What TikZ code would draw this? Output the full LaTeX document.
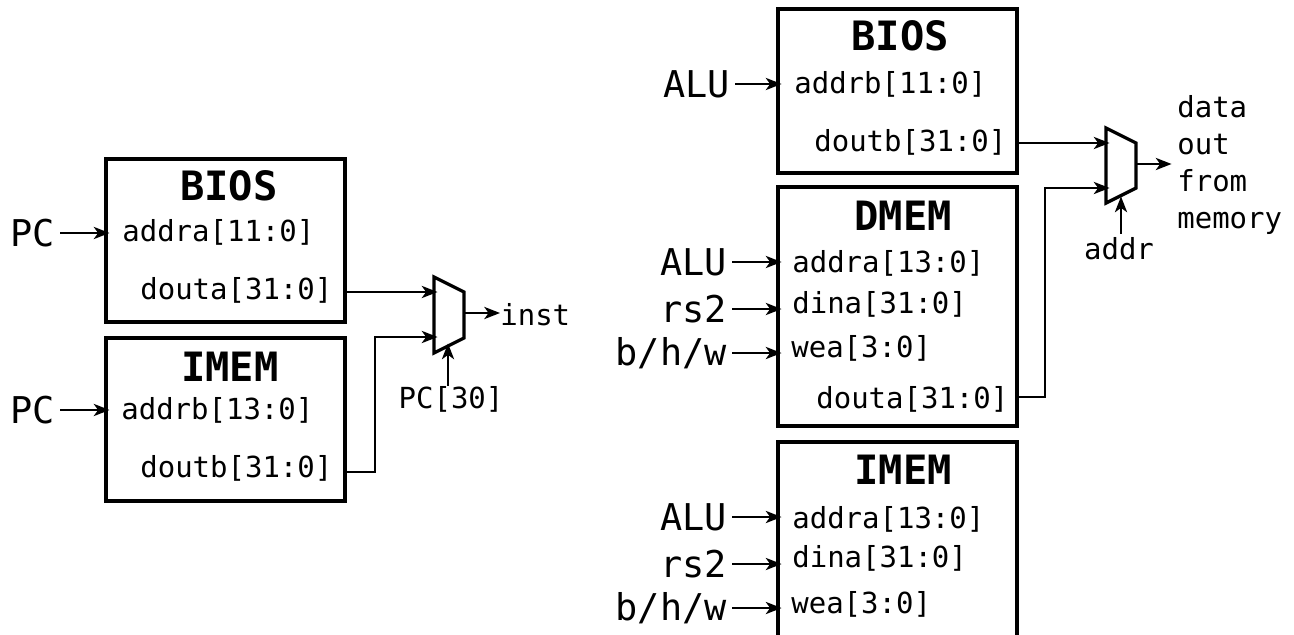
\documentclass[tikz,border=0pt]{standalone}
\usepackage{fontspec}
\setmainfont{DejaVu Sans Mono}
\usetikzlibrary{arrows.meta,calc,positioning}
\tikzset{
  membox/.style={draw,line width=1.9pt,minimum width=4.78cm,outer sep=0pt,inner sep=0pt,anchor=north west},
  memtitle/.style={inner sep=0pt,font=\fontsize{23}{26}\selectfont\bfseries},
  port/.style={anchor=west,inner sep=0pt,yshift=-0.57pt,font=\fontsize{16.5}{20}\selectfont},
  signal/.style={anchor=east,inner ysep=0pt,inner xsep=0.1cm,font=\fontsize{21}{25}\selectfont},
  note/.style={inner sep=0pt,font=\fontsize{16.5}{21}\selectfont},
  wire/.style={line width=1pt,-{Stealth[length=9pt,width=7pt,inset=2.5pt]},shorten >=-2pt},
  muxshape/.style={line width=1.9pt,line join=miter},
}
\begin{document}
\begin{tikzpicture}[x=0.02cm,y=-0.02cm]
\useasboundingbox (0,0) rectangle (1294,635);

% left side
\node[membox,minimum height=3.26cm] (biosL) at (106,159) {};
\node[membox,minimum height=3.26cm] (imemL) at (106,338) {};
\node[memtitle] (biosLt) at (229,186) {BIOS};
\node[memtitle] (imemLt) at (230,367) {IMEM};
\node[port] (addraL) at (122,231) {addra[11:0]};
\node[port] (doutaL) at (140,289) {douta[31:0]};
\node[port] (addrbL) at (121,409) {addrb[13:0]};
\node[port] (doutbL) at (140,467) {doutb[31:0]};
\node[signal] (pcA) at (60,233) {PC};
\node[signal] (pcB) at (60,410) {PC};
\draw[wire] (pcA.east) -- (pcA.east -| biosL.west);
\draw[wire] (pcB.east) -- (pcB.east -| imemL.west);

\coordinate (muxLa) at (434,292);
\coordinate (muxLb) at (434,337);
\coordinate (muxLsel) at (448,347);
\coordinate (muxLout) at (464,313);
\draw[muxshape] (434,277) -- (464,292) -- (464,338) -- (434,353) -- cycle;
\node[note,anchor=west] (inst) at (500,315) {inst};
\node[note] (pcsel) at (451,399) {PC[30]};
\draw[wire] (biosL.east |- muxLa) -- (muxLa);
\draw[wire] (imemL.east |- 0,472) -- (375,472) -- (375,337) -- (muxLb);
\draw[wire,shorten >=0pt] (muxLout) -- (inst.west |- muxLout);
\draw[wire] (pcsel.north -| muxLsel) -- (muxLsel);

% right side
\node[membox,minimum height=3.28cm] (biosR) at (778,9) {};
\node[membox,minimum height=4.78cm] (dmemR) at (778,187) {};
\node[membox,minimum height=4.4cm] (imemR) at (778,442) {};
\node[memtitle] (biosRt) at (900,36) {BIOS};
\node[memtitle] (dmemRt) at (903,216) {DMEM};
\node[memtitle] (imemRt) at (903,470) {IMEM};
\node[port] (addrbR) at (794,83) {addrb[11:0]};
\node[port] (doutbR) at (814,141) {doutb[31:0]};
\node[port] (addraD) at (792,262) {addra[13:0]};
\node[port] (dinaD) at (792,303) {dina[31:0]};
\node[port] (weaD) at (791,347) {wea[3:0]};
\node[port] (doutaD) at (816,398) {douta[31:0]};
\node[port] (addraI) at (792,518) {addra[13:0]};
\node[port] (dinaI) at (792,557) {dina[31:0]};
\node[port] (weaI) at (791,603) {wea[3:0]};

\node[signal] (aluB) at (735,84) {ALU};
\node[signal] (aluD) at (732,262) {ALU};
\node[signal] (rsD) at (732,309) {rs2};
\node[signal] (bhwD) at (732,353) {b/h/w};
\node[signal] (aluI) at (732,517) {ALU};
\node[signal] (rsI) at (732,564) {rs2};
\node[signal] (bhwI) at (732,608) {b/h/w};
\foreach \from/\to in {aluB/biosR,aluD/dmemR,rsD/dmemR,bhwD/dmemR,aluI/imemR,rsI/imemR,bhwI/imemR}
  \draw[wire] (\from.east) -- (\from.east -| \to.west);

\coordinate (muxRa) at (1106,143);
\coordinate (muxRb) at (1106,188);
\coordinate (muxRsel) at (1121,200);
\coordinate (muxRout) at (1136,164);
\coordinate (muxRend) at (1168,164);
\draw[muxshape] (1106,128) -- (1136,143) -- (1136,188) -- (1106,203) -- cycle;
\node[note] (addrsel) at (1119,249) {addr};
\node[note,anchor=north west,align=left] (dataout) at (1177,95) {data\\out\\from\\memory};
\draw[wire] (biosR.east |- muxRa) -- (muxRa);
\draw[wire] (dmemR.east |- 0,397) -- (1045,397) -- (1045,188) -- (muxRb);
\draw[wire] (muxRout) -- (muxRend);
\draw[wire,shorten <=2pt] (addrsel.north -| muxRsel) -- (muxRsel);
\end{tikzpicture}
\end{document}
